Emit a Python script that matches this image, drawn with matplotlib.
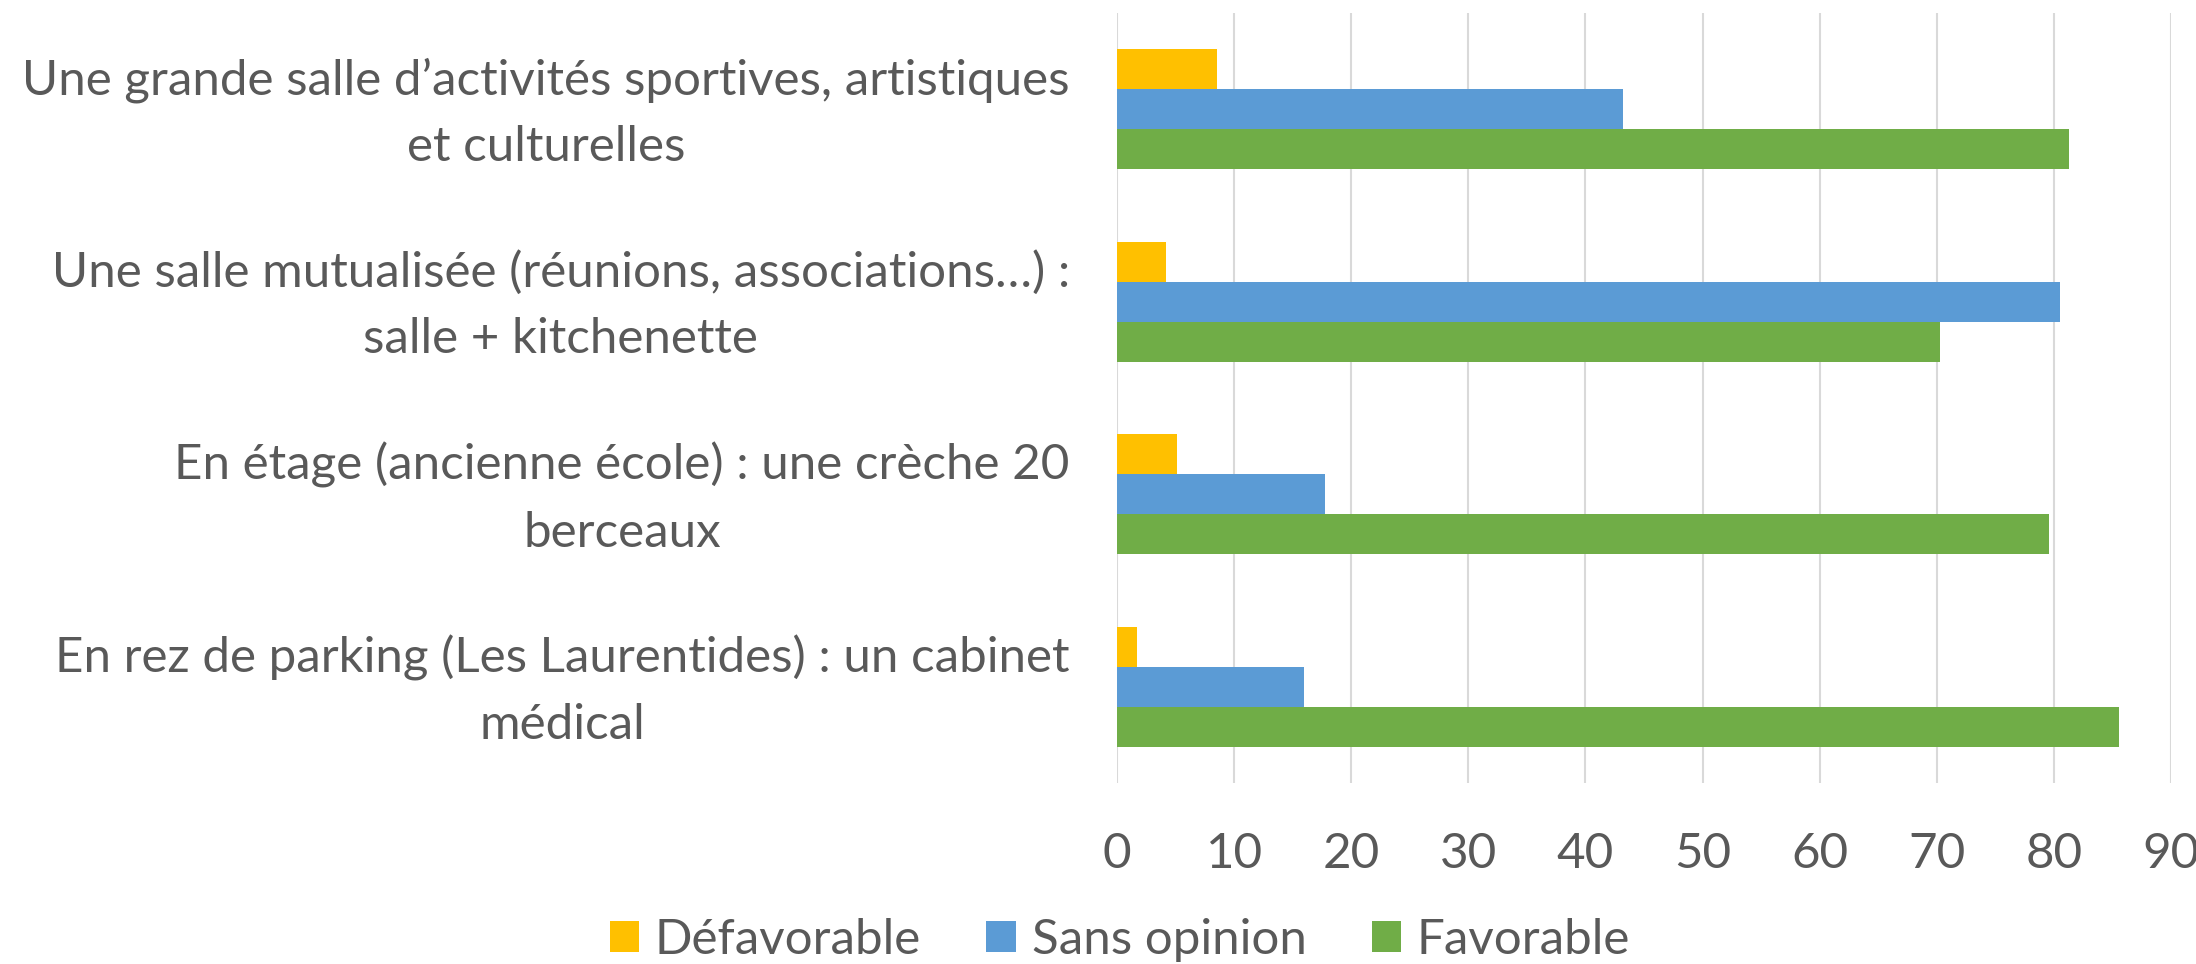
import matplotlib
matplotlib.use("Agg")
from matplotlib import pyplot as plt
import numpy as np

categories = [
    "Une grande salle d\u2019activités sportives, artistiques\net culturelles",
    "Une salle mutualisée (réunions, associations\u2026) :\nsalle + kitchenette",
    "En étage (ancienne école) : une crèche 20\nberceaux",
    "En rez de parking (Les Laurentides) : un cabinet\nmédical",
]
series_names = ["Défavorable", "Sans opinion", "Favorable"]
defavorable = [8.5, 4.2, 5.1, 1.7]
sans_opinion = [43.2, 80.5, 17.8, 16.0]
favorable = [81.3, 70.3, 79.6, 85.6]
x_ticks = list(range(0, 91, 10))

colors = ["#FFC000", "#5B9BD5", "#70AD47"]
text_color = "#595959"
fs = 35.5

plt.rcParams['font.family'] = ['Lato', 'DejaVu Sans']

fig = plt.figure(figsize=(21.96, 9.64), dpi=100)
ax = fig.add_axes([1117 / 2196, 1 - 783 / 964, (2171 - 1117) / 2196, (783 - 13) / 964])

n = len(categories)
y = np.arange(n)[::-1].astype(float)
h = 0.208
for k, (vals, name) in enumerate(zip([defavorable, sans_opinion, favorable], series_names)):
    ax.barh(y + (1 - k) * h, vals, height=h, color=colors[k], label=name, zorder=3)

ax.set_xlim(0, 90)
ax.set_ylim(-0.5, n - 0.5)
ax.set_xticks(x_ticks)
ax.set_yticks(y)
ax.set_yticklabels([])
# category labels drawn as annotations so the two-line block is centred on the group
for yy, cat in zip(y, categories):
    ax.annotate(cat, xy=(0, yy), xycoords=('axes fraction', 'data'),
                xytext=(-34, -3), textcoords='offset points',
                ha='right', va='center', multialignment='center',
                linespacing=1.62, fontsize=fs, color=text_color)
ax.grid(axis='x', color='#D9D9D9', linewidth=1.5, zorder=0)
ax.set_axisbelow(True)
for s in ax.spines.values():
    s.set_visible(False)
ax.tick_params(axis='x', length=0, pad=35, labelsize=fs, labelcolor=text_color)
ax.tick_params(axis='y', length=0)

leg = fig.legend(loc='center', bbox_to_anchor=(1120 / 2196, 1 - 940 / 964), ncol=3,
                 frameon=False, fontsize=fs, handlelength=0.6, handleheight=0.6,
                 handletextpad=0.32, columnspacing=1.32)
for t in leg.get_texts():
    t.set_color(text_color)

fig.savefig("out.png", dpi=100)
